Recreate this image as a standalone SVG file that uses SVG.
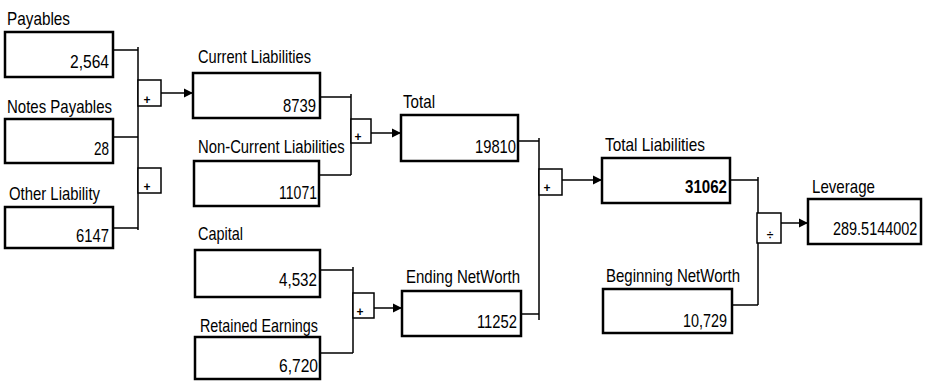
<svg xmlns="http://www.w3.org/2000/svg" width="925" height="381" viewBox="0 0 925 381">
<style>
.box{fill:#fff;stroke:#000;stroke-width:2.5}
.op{fill:#fff;stroke:#000;stroke-width:1.5}
.ln{fill:none;stroke:#000;stroke-width:1.5}
text{font-family:"Liberation Sans",Arial,sans-serif;font-size:19px;fill:#000}
.b{font-weight:bold}
.sym{font-size:12px;font-weight:bold}
</style>
<defs>
<marker id="ah" markerUnits="userSpaceOnUse" markerWidth="10" markerHeight="10" refX="9" refY="5" orient="auto">
<path d="M0,0.5 L9,5 L0,9.5 Z" fill="#000"/>
</marker>
</defs>
<rect width="925" height="381" fill="#fff"/>
<g id="connectors">
<path class="ln" d="M113,50 H138 M113,137 H138 M113,228 H138 M138,47 V230"/>
<rect class="op" x="138" y="80" width="23" height="26"/>
<text class="sym" x="147" y="104" text-anchor="middle">+</text>
<rect class="op" x="138" y="168" width="23" height="25"/>
<text class="sym" x="147" y="191" text-anchor="middle">+</text>
<path class="ln" d="M161,93 H193" marker-end="url(#ah)"/>
<path class="ln" d="M320,97 H351 M319,175 H351 M351,94 V175"/>
<rect class="op" x="351" y="119" width="20" height="24"/>
<text class="sym" x="358" y="141" text-anchor="middle">+</text>
<path class="ln" d="M371,133 H401" marker-end="url(#ah)"/>
<path class="ln" d="M320,270 H353 M320,353 H353 M353,267 V353"/>
<rect class="op" x="353" y="293" width="21" height="25"/>
<text class="sym" x="360" y="316" text-anchor="middle">+</text>
<path class="ln" d="M374,308 H402" marker-end="url(#ah)"/>
<path class="ln" d="M518,141 H539 M521,314 H539 M539,138 V320"/>
<rect class="op" x="539" y="169" width="23" height="26"/>
<text class="sym" x="547" y="192" text-anchor="middle">+</text>
<path class="ln" d="M562,180 H602" marker-end="url(#ah)"/>
<path class="ln" d="M730,180 H758 M732,305 H758 M758,177 V305"/>
<rect class="op" x="757" y="213" width="24" height="30"/>
<text class="sym" x="770" y="239" text-anchor="middle">÷</text>
<path class="ln" d="M781,223 H808" marker-end="url(#ah)"/>
</g>
<g id="payables">
<text x="7" y="25" textLength="63" lengthAdjust="spacingAndGlyphs">Payables</text>
<rect class="box" x="5" y="32" width="108" height="45"/>
<text x="70" y="68" textLength="39" lengthAdjust="spacingAndGlyphs">2,564</text>
</g>
<g id="notes-payables">
<text x="7" y="113" textLength="105" lengthAdjust="spacingAndGlyphs">Notes Payables</text>
<rect class="box" x="5" y="119" width="108" height="44"/>
<text x="94" y="155" textLength="15" lengthAdjust="spacingAndGlyphs">28</text>
</g>
<g id="other-liability">
<text x="9" y="200" textLength="91" lengthAdjust="spacingAndGlyphs">Other Liability</text>
<rect class="box" x="5" y="207" width="108" height="41"/>
<text x="76" y="242" textLength="33" lengthAdjust="spacingAndGlyphs">6147</text>
</g>
<g id="current-liabilities">
<text x="198" y="63" textLength="113" lengthAdjust="spacingAndGlyphs">Current Liabilities</text>
<rect class="box" x="193" y="73" width="127" height="45"/>
<text x="283" y="112" textLength="33" lengthAdjust="spacingAndGlyphs">8739</text>
</g>
<g id="non-current-liabilities">
<text transform="translate(198,153) scale(0.78,1)" x="0" y="0" textLength="188" lengthAdjust="spacingAndGlyphs">Non-Current Liabilities</text>
<rect class="box" x="194" y="161" width="125" height="45"/>
<text x="279" y="199" textLength="38" lengthAdjust="spacingAndGlyphs">11071</text>
</g>
<g id="capital">
<text x="198" y="240" textLength="45" lengthAdjust="spacingAndGlyphs">Capital</text>
<rect class="box" x="195" y="250" width="125" height="47"/>
<text x="279" y="286" textLength="38" lengthAdjust="spacingAndGlyphs">4,532</text>
</g>
<g id="retained-earnings">
<text x="200" y="332" textLength="118" lengthAdjust="spacingAndGlyphs">Retained Earnings</text>
<rect class="box" x="195" y="337" width="125" height="42"/>
<text x="279" y="372" textLength="39" lengthAdjust="spacingAndGlyphs">6,720</text>
</g>
<g id="total">
<text x="403" y="108" textLength="32" lengthAdjust="spacingAndGlyphs">Total</text>
<rect class="box" x="401" y="115" width="117" height="46"/>
<text x="475" y="153" textLength="41" lengthAdjust="spacingAndGlyphs">19810</text>
</g>
<g id="ending-networth">
<text x="406" y="283" textLength="114" lengthAdjust="spacingAndGlyphs">Ending NetWorth</text>
<rect class="box" x="402" y="291" width="119" height="45"/>
<text x="477" y="328" textLength="40" lengthAdjust="spacingAndGlyphs">11252</text>
</g>
<g id="total-liabilities">
<text x="605" y="151" textLength="100" lengthAdjust="spacingAndGlyphs">Total Liabilities</text>
<rect class="box" x="602" y="158" width="128" height="45"/>
<text class="b" x="685" y="193" textLength="42" lengthAdjust="spacingAndGlyphs">31062</text>
</g>
<g id="beginning-networth">
<text x="606" y="282" textLength="134" lengthAdjust="spacingAndGlyphs">Beginning NetWorth</text>
<rect class="box" x="603" y="289" width="129" height="44"/>
<text x="683" y="327" textLength="44" lengthAdjust="spacingAndGlyphs">10,729</text>
</g>
<g id="leverage">
<text x="812" y="193" textLength="63" lengthAdjust="spacingAndGlyphs">Leverage</text>
<rect class="box" x="808" y="199" width="113" height="45"/>
<text transform="translate(833,235) scale(0.76,1)" x="0" y="0" textLength="111" lengthAdjust="spacingAndGlyphs">289.5144002</text>
</g>
</svg>
